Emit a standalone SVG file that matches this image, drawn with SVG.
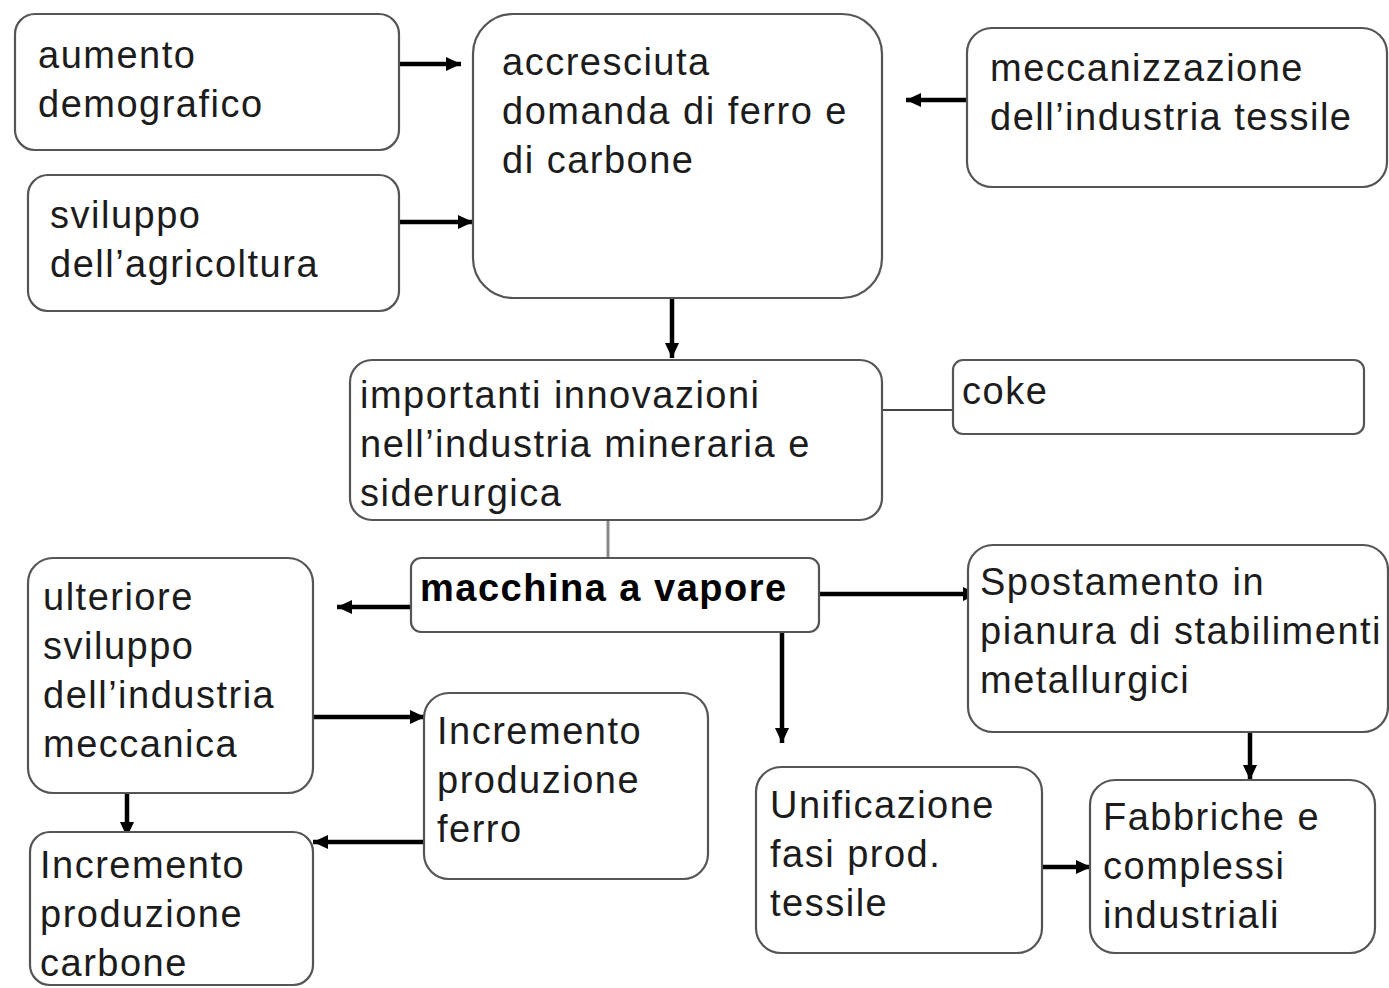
<svg xmlns="http://www.w3.org/2000/svg" width="1389" height="988" viewBox="0 0 1389 988">
<style>
.box{fill:#fff;stroke:#555;stroke-width:2.2}
.t{font-family:"Liberation Sans",Arial,sans-serif;font-size:38px;letter-spacing:1.5px;fill:#1c1c1c}
.b{font-weight:bold;fill:#000}
.c{stroke:#000;stroke-width:4.5;fill:none}
.l{stroke:#444;stroke-width:2;fill:none}
.g{stroke:#888;stroke-width:3;fill:none}
</style>
<defs>
<marker id="a" markerUnits="userSpaceOnUse" markerWidth="16" markerHeight="16" viewBox="0 0 16 16" refX="15" refY="8" orient="auto">
<path d="M0,1 L15,8 L0,15 Z" fill="#000"/>
</marker>
</defs>
<rect width="1389" height="988" fill="#fff"/>
<g id="connectors">
<line class="c" x1="399" y1="64" x2="461" y2="64" marker-end="url(#a)"/>
<line class="c" x1="399" y1="222" x2="473" y2="222" marker-end="url(#a)"/>
<line class="c" x1="967" y1="100" x2="906" y2="100" marker-end="url(#a)"/>
<line class="c" x1="672" y1="298" x2="672" y2="358" marker-end="url(#a)"/>
<line class="l" x1="882" y1="410" x2="953" y2="410"/>
<line class="g" x1="608" y1="520" x2="608" y2="558"/>
<line class="c" x1="411" y1="607" x2="337" y2="607" marker-end="url(#a)"/>
<line class="c" x1="819" y1="594" x2="978" y2="594" marker-end="url(#a)"/>
<line class="c" x1="782" y1="632" x2="782" y2="743" marker-end="url(#a)"/>
<line class="c" x1="313" y1="717" x2="425" y2="717" marker-end="url(#a)"/>
<line class="c" x1="127" y1="793" x2="127" y2="837" marker-end="url(#a)"/>
<line class="c" x1="424" y1="842" x2="313" y2="842" marker-end="url(#a)"/>
<line class="c" x1="1250" y1="732" x2="1250" y2="780" marker-end="url(#a)"/>
<line class="c" x1="1042" y1="867" x2="1091" y2="867" marker-end="url(#a)"/>
</g>
<g id="n1"><rect class="box" x="15" y="14" width="384" height="136" rx="20"/>
<text class="t" x="38" y="68">aumento</text><text class="t" x="38" y="117">demografico</text></g>
<g id="n2"><rect class="box" x="28" y="175" width="371" height="136" rx="20"/>
<text class="t" x="50" y="228">sviluppo</text><text class="t" x="50" y="277">dell’agricoltura</text></g>
<g id="n3"><rect class="box" x="473" y="14" width="409" height="284" rx="40"/>
<text class="t" x="502" y="75">accresciuta</text><text class="t" x="502" y="124">domanda di ferro e</text><text class="t" x="502" y="173">di carbone</text></g>
<g id="n4"><rect class="box" x="967" y="28" width="420" height="159" rx="25"/>
<text class="t" x="990" y="81">meccanizzazione</text><text class="t" x="990" y="130">dell’industria tessile</text></g>
<g id="n5"><rect class="box" x="350" y="360" width="532" height="160" rx="22"/>
<text class="t" x="360" y="408">importanti innovazioni</text><text class="t" x="360" y="457">nell’industria mineraria e</text><text class="t" x="360" y="506">siderurgica</text></g>
<g id="n6"><rect class="box" x="953" y="360" width="411" height="74" rx="10"/>
<text class="t" x="962" y="404">coke</text></g>
<g id="n7"><rect class="box" x="411" y="558" width="408" height="74" rx="10"/>
<text class="t b" x="420" y="601">macchina a vapore</text></g>
<g id="n8"><rect class="box" x="28" y="558" width="285" height="235" rx="25"/>
<text class="t" x="43" y="610">ulteriore</text><text class="t" x="43" y="659">sviluppo</text><text class="t" x="43" y="708">dell’industria</text><text class="t" x="43" y="757">meccanica</text></g>
<g id="n9"><rect class="box" x="424" y="693" width="284" height="186" rx="25"/>
<text class="t" x="437" y="744">Incremento</text><text class="t" x="437" y="793">produzione</text><text class="t" x="437" y="842">ferro</text></g>
<g id="n10"><rect class="box" x="968" y="545" width="420" height="187" rx="25"/>
<text class="t" x="980" y="595">Spostamento in</text><text class="t" x="980" y="644">pianura di stabilimenti</text><text class="t" x="980" y="693">metallurgici</text></g>
<g id="n11"><rect class="box" x="756" y="767" width="286" height="186" rx="25"/>
<text class="t" x="770" y="818">Unificazione</text><text class="t" x="770" y="867">fasi prod.</text><text class="t" x="770" y="916">tessile</text></g>
<g id="n12"><rect class="box" x="1090" y="780" width="285" height="173" rx="25"/>
<text class="t" x="1103" y="830">Fabbriche e</text><text class="t" x="1103" y="879">complessi</text><text class="t" x="1103" y="928">industriali</text></g>
<g id="n13"><rect class="box" x="30" y="832" width="283" height="153" rx="20"/>
<text class="t" x="40" y="878">Incremento</text><text class="t" x="40" y="927">produzione</text><text class="t" x="40" y="976">carbone</text></g>
</svg>
